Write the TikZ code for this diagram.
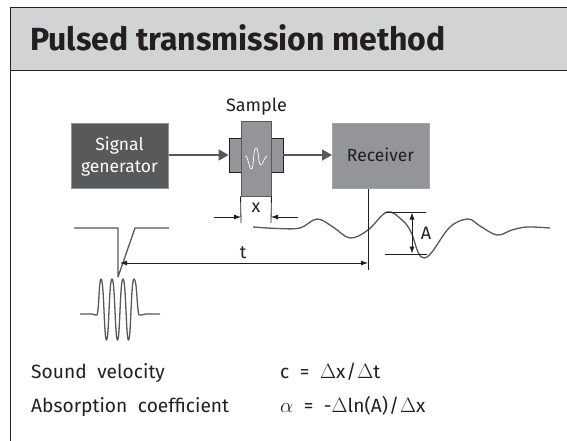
\documentclass[tikz,border=0pt]{standalone}
\usepackage{fontspec}
\setmainfont{Fira Sans}
\usetikzlibrary{arrows.meta}
\definecolor{hdr}{HTML}{D1D3D4}
\definecolor{dk}{HTML}{58595B}
\definecolor{md}{HTML}{939598}
\definecolor{ink}{HTML}{231F20}
\newcommand{\widewords}[1]{{\spaceskip=.55em\relax #1}}
\tikzset{
  lab/.style={inner sep=0pt,text=ink,font=\fontsize{18pt}{22pt}\selectfont},
  txt/.style={inner sep=0pt,text=ink,anchor=base west,font=\fontsize{19.2pt}{22pt}\selectfont},
  flow/.style={draw=dk,line width=1.5pt,-{Triangle[length=10pt,width=11pt]}},
  dim/.style={draw=ink,line width=.8pt},
  dima/.style={dim,-{Latex[length=7pt,width=5pt]}},
  ln/.style={draw=dk,line width=1.3pt,line join=round},
  samplepart/.style={fill=md,inner sep=0pt},
  x={1pt},y={-1pt}
}
\begin{document}
\begin{tikzpicture}
\useasboundingbox (0,0) rectangle (567,441);
\fill[white] (0,0) rectangle (567,441);
\node[draw=ink,line width=.9pt,fill=hdr,minimum width=568pt,minimum height=63pt,inner sep=0pt,anchor=north west] (head) at (10,6.7) {};
\draw[ink,line width=.8pt] (10,70) -- (10,441);
\node[anchor=base west,inner sep=0pt,text=ink,font=\fontsize{32pt}{36pt}\selectfont\bfseries] (title) at (30,51) {Pulsed transmission method};
\node[fill=dk,draw=md,line width=1pt,inner sep=0pt,anchor=north west,minimum width=97pt,minimum height=65pt] (sg) at (71,123) {};
\node[anchor=base,inner sep=0pt,text=white,font=\fontsize{17.5pt}{22pt}\selectfont] (sg1) at (119.5,150) {Signal};
\node[anchor=base,inner sep=0pt,text=white,font=\fontsize{17.5pt}{22pt}\selectfont] (sg2) at (119.5,172) {generator};
\node[fill=md,draw=md!85!white,line width=1pt,inner sep=0pt,anchor=north west,minimum width=97pt,minimum height=65pt] (rc) at (332,123) {};
\node[lab,anchor=base,font=\fontsize{17.5pt}{22pt}\selectfont] (rct) at (380.5,161) {Receiver};
\node[lab,anchor=base] (samp) at (256.5,112) {Sample};
\node[samplepart,draw=ink,line width=.8pt,minimum width=12pt,minimum height=34pt] (tl) at (235,155) {};
\node[samplepart,draw=ink,line width=.8pt,minimum width=12pt,minimum height=34pt] (tr) at (277,155) {};
\node[samplepart,draw=dk,line width=.9pt,minimum width=30pt,minimum height=75pt] (sp) at (256,158.5) {};
\draw[white,line width=.7pt] (245.5,157) .. controls (247,152) and (249,169) .. (251.5,169) .. controls (254,169) and (253,148) .. (256,148) .. controls (259,148) and (258,165) .. (261,165) .. controls (263,165) and (264,157) .. (267,156);
\draw[flow] (sg.east |- tl.west) -- (tl.west);
\draw[flow] (tr.east) -- (rc.west |- tr.east);
\coordinate (xlb) at (241,223);
\coordinate (xrb) at (271,223);
\draw[dim] (sp.south west) -- (xlb);
\draw[dim] (sp.south east) -- (xrb);
\node[lab,anchor=base] (xl) at (256,212.5) {x};
\coordinate (xa) at (214,217);
\coordinate (xb) at (298,217);
\draw[dima] (xa) -- (xlb |- xa);
\draw[dima] (xb) -- (xrb |- xb);
% transmit pulse
\draw[ln] (74,228) -- (118,228) -- (118,277) -- (135,228) -- (169,228);
\draw[ln] (80,314) -- (92,314) .. controls (95,314) and (96,316) .. (97,315) .. controls (99,311) and (99,279) .. (101,279) .. controls (104,279) and (104,340) .. (106.5,340) .. controls (109,340) and (109,279) .. (112,279) .. controls (115,279) and (115,340) .. (117.5,340) .. controls (120,340) and (120,279) .. (123,279) .. controls (126,279) and (126,340) .. (128.5,340) .. controls (131,340) and (131,279) .. (134,279) .. controls (137,279) and (137,311) .. (139,315) .. controls (141,316) and (143,314) .. (146,314) -- (160,314);
% receive
\draw[ln] plot[smooth,tension=.6] coordinates {(253,227) (278,228.5) (300,228) (317,219) (333,227) (350,238) (368,230) (387,212) (402,220) (411,232) (418,252) (424,258) (432,252) (450,227) (468,219) (480,226) (497,235) (512,230) (527,227) (550,228)};
\coordinate (ta) at (385,212);
\coordinate (tb) at (426,212);
\coordinate (ba) at (385,254);
\coordinate (bb) at (427,254);
\draw[dim] (ta) -- (tb);
\draw[dim] (ba) -- (bb);
\coordinate (au) at (412,212.5);
\coordinate (ad) at (412,253.5);
\draw[dim,{Latex[length=7pt,width=5pt]}-{Latex[length=7pt,width=5pt]}] (au) -- (ad);
\node[lab,anchor=base] (al) at (426,239) {A};
% t
\coordinate (rcb) at (368,270);
\draw[dim] (rc.south -| rcb) -- (rcb);
\coordinate (te) at (120,263);
\draw[dim,{Latex[length=7pt,width=5pt]}-{Latex[length=7pt,width=5pt]}] (te) -- (rcb |- te);
\node[lab,anchor=base] (tl2) at (243,258) {t};
% text
\node[txt] (t1) at (31,378) {\widewords{Sound velocity}};
\node[txt] (t2) at (31,412) {\widewords{Absorption coefficient}};
\node[txt] (f1) at (280,378) {\widewords{c = $\Delta$x\kern1pt/\kern1pt$\Delta$t}};
\node[txt] (f2) at (280,412) {\widewords{$\alpha$ = -$\Delta$ln(A)\kern1pt/\kern1pt$\Delta$x}};
\end{tikzpicture}
\end{document}
